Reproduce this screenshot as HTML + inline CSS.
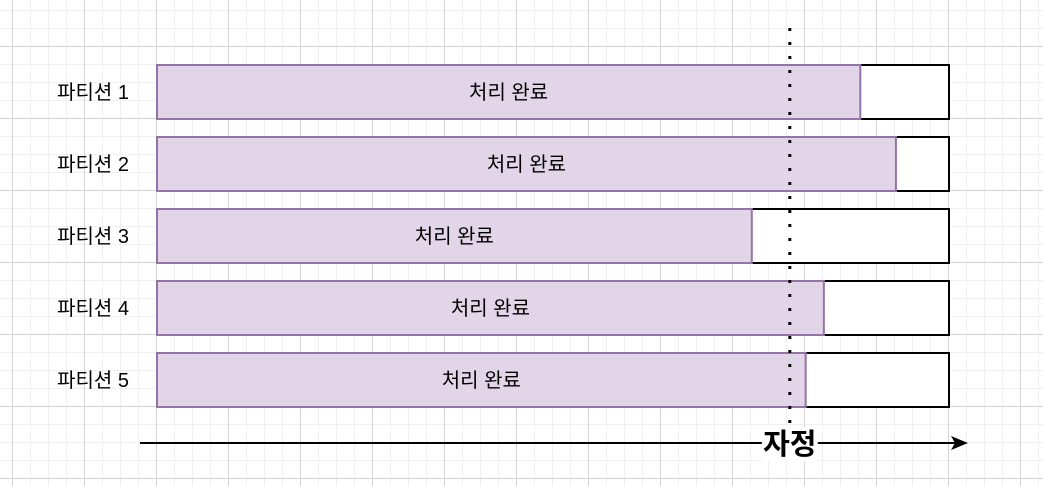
<!DOCTYPE html>
<html><head><meta charset="utf-8">
<style>
html,body{margin:0;padding:0;}
body{width:1043px;height:486px;overflow:hidden;background:#fff;
background-image:
linear-gradient(#d4d4d4 1px,transparent 1px),
linear-gradient(90deg,#d4d4d4 1px,transparent 1px),
linear-gradient(#f0f0f0 1px,transparent 1px),
linear-gradient(90deg,#f0f0f0 1px,transparent 1px);
background-size:72px 72px,72px 72px,18px 18px,18px 18px;
background-position:0 46px,12px 0,0 10px,12px 0;
font-family:"Liberation Sans","Noto Sans CJK KR",sans-serif;}
svg{position:absolute;left:0;top:0;}
</style></head><body>
<svg id="chart" width="1043" height="486"></svg>
<script>
const categories=["파티션 1","파티션 2","파티션 3","파티션 4","파티션 5"];
const progress=[88.8,93.3,75.1,84.2,81.9];
const midnightPct=79.9;
const barLabel="처리 완료";
const svg=document.getElementById('chart');
const NS='http://www.w3.org/2000/svg';
const x0=157,x1=949;
const xs=v=>x0+v*(x1-x0)/100;
const yb=i=>65+i*72;
const bh=54;
function mk(t,a){const e=document.createElementNS(NS,t);for(const k in a)e.setAttribute(k,a[k]);svg.appendChild(e);return e;}
categories.forEach((c,i)=>{
  const y=yb(i);
  const r=mk('rect',{x:x0,y:y,width:x1-x0,height:bh,fill:'#fff',stroke:'#000','stroke-width':2});
  
  
  const p=mk('rect',{x:x0,y:y,width:xs(progress[i])-x0,height:bh,fill:'#e1d5e7',stroke:'#9673a6','stroke-width':2});
  
  
  const t=mk('text',{x:(x0+xs(progress[i]))/2,y:y+bh/2+7,'text-anchor':'middle','font-size':20,fill:'#000'});
  t.textContent=barLabel;
  
  
  const l=mk('text',{x:129,y:y+bh/2+7,'text-anchor':'end','font-size':20,fill:'#000'});
  l.textContent=c;
  
  
});
const mx=xs(midnightPct);
const d=mk('line',{x1:mx,y1:28,x2:mx,y2:428,stroke:'#000','stroke-width':3,'stroke-dasharray':'3 11'});


const ax=mk('line',{x1:140,y1:443,x2:958,y2:443,stroke:'#000','stroke-width':2});


const ah=mk('path',{d:'M968 443 L951 436 L955 443 L951 450 Z',fill:'#000'});


const bg=mk('rect',{x:mx-28,y:427,width:56,height:34,fill:'#fff'});


const ml=mk('text',{x:mx,y:454,'text-anchor':'middle','font-size':29,'font-weight':'bold',fill:'#000'});
ml.textContent='자정';


</script>
</body></html>
